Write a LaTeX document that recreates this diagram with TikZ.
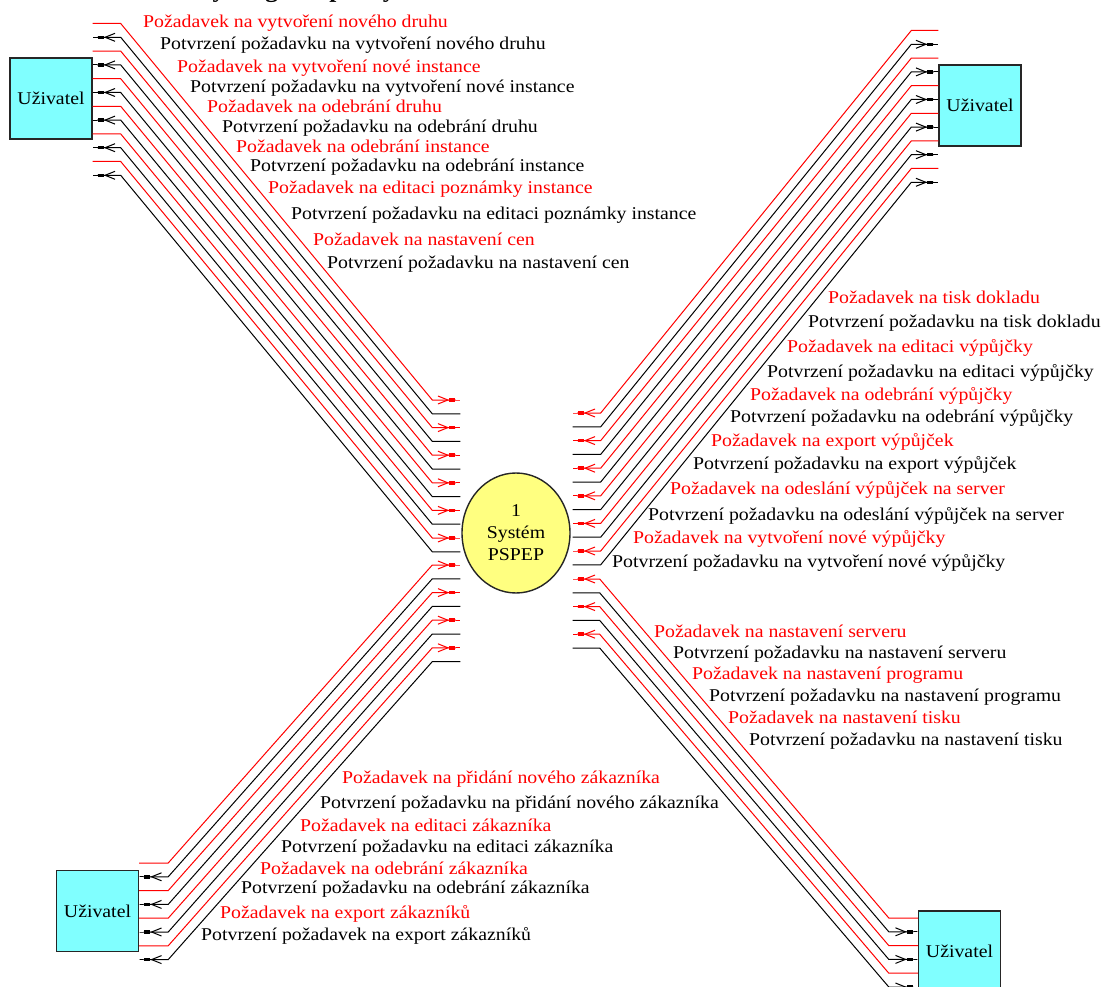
\documentclass[tikz,border=0pt]{standalone}
\usepackage{fontspec}
\setmainfont{Liberation Serif}[FakeStretch=1.1]
\usetikzlibrary{arrows.meta,shapes.geometric,calc}
\definecolor{usrfill}{RGB}{128,255,255}
\definecolor{procfill}{RGB}{255,255,128}
\definecolor{reqred}{RGB}{255,0,0}

\begin{document}
\begin{tikzpicture}[x=1pt,y=-1pt,
    usr/.style={draw=black!85, line width=1.4pt, fill=usrfill, minimum width=82pt,
        minimum height=81pt, inner sep=0pt, font=\fontsize{18}{22}\selectfont},
    proc/.style={ellipse, draw=black!85, line width=1.4pt, fill=procfill, minimum width=108pt,
        minimum height=120pt, inner sep=0pt, align=center, font=\fontsize{18}{22}\selectfont},
    req/.style={reqred, line width=1pt},
    ack/.style={black, line width=1pt},
    flowtip/.style={-{Straight Barb[length=10pt,width=8pt] Rectangle[length=6pt,width=3.5pt] Rectangle[length=5pt,width=1pt]}},
    lbl/.style={anchor=base west, inner sep=0pt, font=\fontsize{18}{22}\selectfont}]
    \useasboundingbox (0,0) rectangle (1103,987);

    % heading, cut off by the page edge
    \node[anchor=base west, inner sep=0pt, font=\fontsize{23}{26}\selectfont\bfseries] (title) at (100,-2.5) {Kontextový diagram pro systém};

    % processes and terminators
    \node[proc] (sys) at (516,533) {1\\Systém\\PSPEP};
    \node[usr] (usrTL) at (51,98.5) {Uživatel};
    \node[usr] (usrTR) at (980,105.5) {Uživatel};
    \node[usr] (usrBL) at (97.5,911) {Uživatel};
    \node[usr] (usrBR) at (959.5,951.5) {Uživatel};
    \coordinate (sysL) at ($(sys.west)+(-1,0)$);
    \coordinate (sysR) at ($(sys.east)+(2,0)$);

    % top left flows
    \foreach \k in {0,...,11} {
        \pgfmathsetmacro{\ys}{23.5+13.8*\k}
        \pgfmathsetmacro{\ye}{\ys+376.5}
        \ifodd\k
            \draw[ack,flowtip] (sysL |- 0,\ye) -- ++(-28,0) -- ($(usrTL.east |- 0,\ys)+(28,0)$) -- (usrTL.east |- 0,\ys);
        \else
            \draw[req,flowtip] (usrTL.east |- 0,\ys) -- ++(28,0) -- ($(sysL |- 0,\ye)+(-28,0)$) -- (sysL |- 0,\ye);
        \fi
    }

    % top right flows
    \foreach \k in {0,...,11} {
        \pgfmathsetmacro{\ys}{30.5+13.8*\k}
        \pgfmathsetmacro{\ye}{\ys+382.5}
        \ifodd\k
            \draw[ack,flowtip] (sysR |- 0,\ye) -- ++(28,0) -- ($(usrTR.west |- 0,\ys)+(-27,0)$) -- (usrTR.west |- 0,\ys);
        \else
            \draw[req,flowtip] (usrTR.west |- 0,\ys) -- ++(-27,0) -- ($(sysR |- 0,\ye)+(28,0)$) -- (sysR |- 0,\ye);
        \fi
    }

    % bottom left flows
    \foreach \k in {0,...,7} {
        \pgfmathsetmacro{\ys}{863+13.8*\k}
        \pgfmathsetmacro{\ye}{\ys-298}
        \ifodd\k
            \draw[ack,flowtip] (sysL |- 0,\ye) -- ++(-28,0) -- ($(usrBL.east |- 0,\ys)+(29,0)$) -- (usrBL.east |- 0,\ys);
        \else
            \draw[req,flowtip] (usrBL.east |- 0,\ys) -- ++(29,0) -- ($(sysL |- 0,\ye)+(-28,0)$) -- (sysL |- 0,\ye);
        \fi
    }

    % bottom right flows
    \foreach \k in {0,...,5} {
        \pgfmathsetmacro{\ye}{579+13.8*\k}
        \pgfmathsetmacro{\ys}{\ye+339}
        \ifodd\k
            \draw[ack,flowtip] (sysR |- 0,\ye) -- ++(27,0) -- ($(usrBR.west |- 0,\ys)+(-29,0)$) -- (usrBR.west |- 0,\ys);
        \else
            \draw[req,flowtip] (usrBR.west |- 0,\ys) -- ++(-29,0) -- ($(sysR |- 0,\ye)+(27,0)$) -- (sysR |- 0,\ye);
        \fi
    }

    % labels
    \node[lbl,reqred] (tl1) at (143,28) {Požadavek na vytvoření nového druhu};
    \node[lbl] (tl2) at (160,50) {Potvrzení požadavku na vytvoření nového druhu};
    \node[lbl,reqred] (tl3) at (177,73) {Požadavek na vytvoření nové instance};
    \node[lbl] (tl4) at (190,93) {Potvrzení požadavku na vytvoření nové instance};
    \node[lbl,reqred] (tl5) at (207,113) {Požadavek na odebrání druhu};
    \node[lbl] (tl6) at (222,133) {Potvrzení požadavku na odebrání druhu};
    \node[lbl,reqred] (tl7) at (236,153) {Požadavek na odebrání instance};
    \node[lbl] (tl8) at (250,172) {Potvrzení požadavku na odebrání instance};
    \node[lbl,reqred] (tl9) at (268,194) {Požadavek na editaci poznámky instance};
    \node[lbl] (tl10) at (291,220) {Potvrzení požadavku na editaci poznámky instance};
    \node[lbl,reqred] (tl11) at (313,245) {Požadavek na nastavení cen};
    \node[lbl] (tl12) at (327,268) {Potvrzení požadavku na nastavení cen};

    \node[lbl,reqred] (tr1) at (828,303) {Požadavek na tisk dokladu};
    \node[lbl] (tr2) at (808,327) {Potvrzení požadavku na tisk dokladu};
    \node[lbl,reqred] (tr3) at (787,352) {Požadavek na editaci výpůjčky};
    \node[lbl] (tr4) at (767,377) {Potvrzení požadavku na editaci výpůjčky};
    \node[lbl,reqred] (tr5) at (750,400) {Požadavek na odebrání výpůjčky};
    \node[lbl] (tr6) at (730,422) {Potvrzení požadavku na odebrání výpůjčky};
    \node[lbl,reqred] (tr7) at (711,446) {Požadavek na export výpůjček};
    \node[lbl] (tr8) at (693,469) {Potvrzení požadavku na export výpůjček};
    \node[lbl,reqred] (tr9) at (670,494) {Požadavek na odeslání výpůjček na server};
    \node[lbl] (tr10) at (648,520) {Potvrzení požadavku na odeslání výpůjček na server};
    \node[lbl,reqred] (tr11) at (633,543) {Požadavek na vytvoření nové výpůjčky};
    \node[lbl] (tr12) at (612,567) {Potvrzení požadavku na vytvoření nové výpůjčky};

    \node[lbl,reqred] (br1) at (654,637) {Požadavek na nastavení serveru};
    \node[lbl] (br2) at (673,658) {Potvrzení požadavku na nastavení serveru};
    \node[lbl,reqred] (br3) at (692,679) {Požadavek na nastavení programu};
    \node[lbl] (br4) at (709,701) {Potvrzení požadavku na nastavení programu};
    \node[lbl,reqred] (br5) at (728,723) {Požadavek na nastavení tisku};
    \node[lbl] (br6) at (749,745) {Potvrzení požadavku na nastavení tisku};

    \node[lbl,reqred] (bl1) at (342,783) {Požadavek na přidání nového zákazníka};
    \node[lbl] (bl2) at (320,808) {Potvrzení požadavku na přidání nového zákazníka};
    \node[lbl,reqred] (bl3) at (300,831) {Požadavek na editaci zákazníka};
    \node[lbl] (bl4) at (281,852) {Potvrzení požadavku na editaci zákazníka};
    \node[lbl,reqred] (bl5) at (260,874) {Požadavek na odebrání zákazníka};
    \node[lbl] (bl6) at (241,893) {Potvrzení požadavku na odebrání zákazníka};
    \node[lbl,reqred] (bl7) at (220,918) {Požadavek na export zákazníků};
    \node[lbl] (bl8) at (201,940) {Potvrzení požadavek na export zákazníků};
\end{tikzpicture}
\end{document}
